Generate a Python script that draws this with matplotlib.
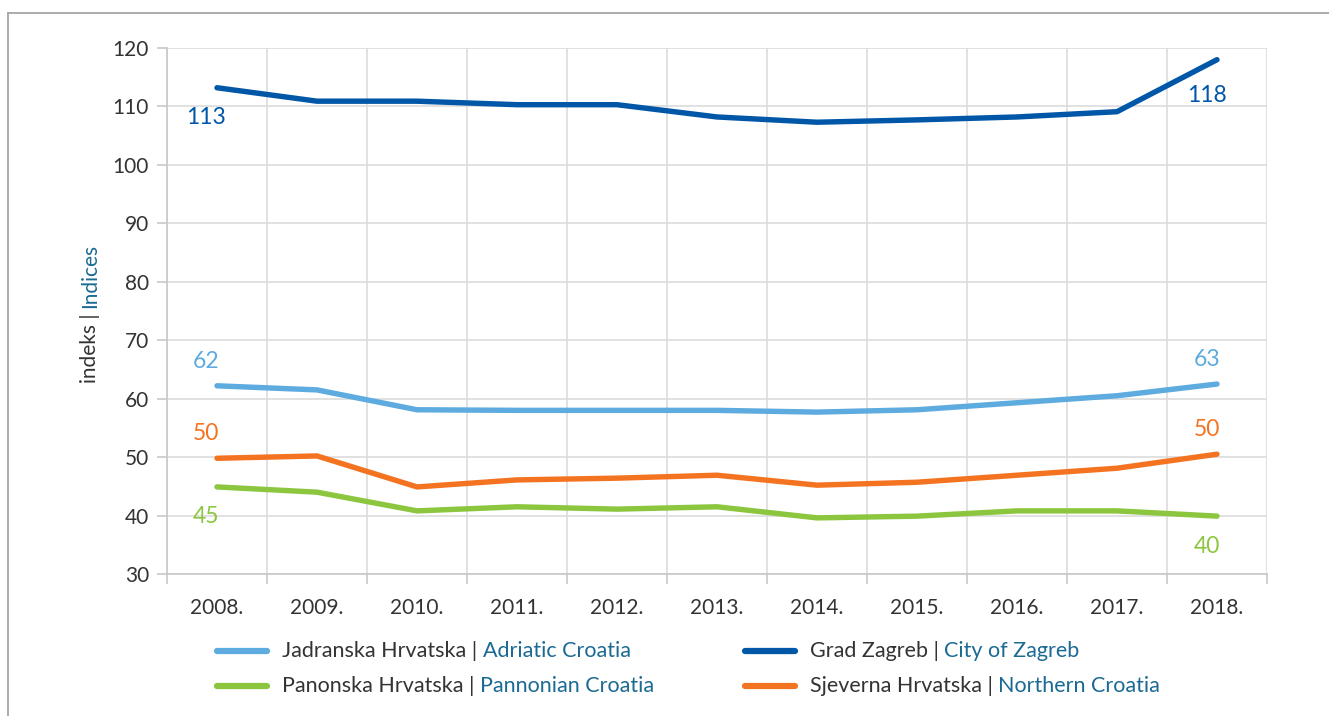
import matplotlib
matplotlib.use("Agg")
import matplotlib.pyplot as plt
from matplotlib.lines import Line2D

plt.rcParams['font.family'] = ['Lato', 'DejaVu Sans']

years = ["2008.", "2009.", "2010.", "2011.", "2012.", "2013.", "2014.", "2015.", "2016.", "2017.", "2018."]
adriatic = [62.2, 61.5, 58.1, 58.0, 58.0, 58.0, 57.7, 58.1, 59.3, 60.5, 62.5]
zagreb = [113.2, 110.9, 110.9, 110.3, 110.3, 108.2, 107.3, 107.7, 108.2, 109.1, 118.0]
pannonian = [44.9, 44.0, 40.8, 41.5, 41.1, 41.5, 39.6, 39.9, 40.8, 40.8, 39.9]
northern = [49.8, 50.2, 44.9, 46.1, 46.4, 46.9, 45.2, 45.7, 46.9, 48.1, 50.5]

names_hr = ["Jadranska Hrvatska", "Grad Zagreb", "Panonska Hrvatska", "Sjeverna Hrvatska"]
names_en = ["Adriatic Croatia", "City of Zagreb", "Pannonian Croatia", "Northern Croatia"]
series = [adriatic, zagreb, pannonian, northern]
colors = ["#5dabdf", "#0057a8", "#8cc63f", "#f47321"]
end_labels = [("62", "63"), ("113", "118"), ("45", "40"), ("50", "50")]
label_side = [1, -1, -1, 1]

W, H = 1329, 716
fig = plt.figure(figsize=(W / 100, H / 100), dpi=100)
ax = fig.add_axes([167 / W, 1 - 574 / H, 1100 / W, 526 / H])

x = list(range(len(years)))
for s, c in zip(series, colors):
    ax.plot(x, s, color=c, lw=3.9, solid_capstyle='round', solid_joinstyle='round', zorder=3)

for s, c, (l0, l1), side in zip(series, colors, end_labels, label_side):
    va = 'bottom' if side > 0 else 'top'
    dy0 = 10 if side > 0 else -14
    dy1 = 10 if side > 0 else (-18 if l1 == "118" else -14)
    ax.annotate(l0, (0, s[0]), xytext=(-8, dy0), textcoords='offset points',
                ha='center', va=va, color=c, fontsize=16.5)
    ax.annotate(l1, (10, s[-1]), xytext=(-7, dy1), textcoords='offset points',
                ha='center', va=va, color=c, fontsize=16.5)

ax.set_xlim(-0.5, 10.5)
ax.set_ylim(30, 120)
ax.set_yticks(range(30, 121, 10))
ax.set_xticks(x)
ax.set_xticklabels(years)
ax.set_xticks([i - 0.5 for i in range(len(years) + 1)], minor=True)
ax.tick_params(axis='x', which='major', length=0, pad=17, labelsize=15, labelcolor='#333333')
ax.tick_params(axis='x', which='minor', length=7, color='#c8c8c8', width=1.2)
ax.tick_params(axis='y', length=7, color='#c8c8c8', width=1.2, pad=6, labelsize=15, labelcolor='#333333')
ax.grid(True, axis='y', which='major', color='#dcdcdc', lw=1.2)
ax.grid(True, axis='x', which='minor', color='#dcdcdc', lw=1.2)
ax.grid(False, axis='x', which='major')
for sp in ['top', 'right']:
    ax.spines[sp].set_visible(False)
for sp in ['left', 'bottom']:
    ax.spines[sp].set_color('#c8c8c8')
    ax.spines[sp].set_linewidth(1.2)
ax.set_axisbelow(True)

# y label in two colours
fig.canvas.draw()
r = fig.canvas.get_renderer()
t1 = fig.text(90 / W, 0, "indeks | ", rotation=90, ha='center', va='bottom',
              fontsize=15, color='#333333')
bb = t1.get_window_extent(r)
t2 = fig.text(90 / W, 0, "Indices", rotation=90, ha='center', va='bottom', fontsize=15, color='#1a6a93')
bb2 = t2.get_window_extent(r)
total = bb.height + bb2.height
center = (H - 313)
start = center - total / 2
t1.set_position((90 / W, start / H))
t2.set_position((90 / W, (start + bb.height) / H))

# legend drawn manually
leg_pos = [(217, 651), (745, 651), (217, 686), (745, 686)]
for (lx, ly), c, nh, ne in zip(leg_pos, colors, names_hr, names_en):
    fy = 1 - ly / H
    fig.add_artist(Line2D([lx / W, (lx + 50) / W], [fy, fy], color=c, lw=4.5,
                          solid_capstyle='round', transform=fig.transFigure))
    ta = fig.text((lx + 65) / W, fy, nh + " | ", ha='left', va='center', fontsize=15.5, color='#333333')
    b = ta.get_window_extent(r)
    fig.text(b.x1 / W, fy, ne, ha='left', va='center', fontsize=15.5, color='#1a6a93')

# outer frame
fc = '#a8a4a0'
fig.add_artist(Line2D([8 / W, 1.0], [1 - 13 / H, 1 - 13 / H], color=fc, lw=1.3, transform=fig.transFigure))
fig.add_artist(Line2D([8 / W, 8 / W], [0, 1 - 13 / H], color=fc, lw=1.3, transform=fig.transFigure))

fig.savefig("out.png", dpi=100)
